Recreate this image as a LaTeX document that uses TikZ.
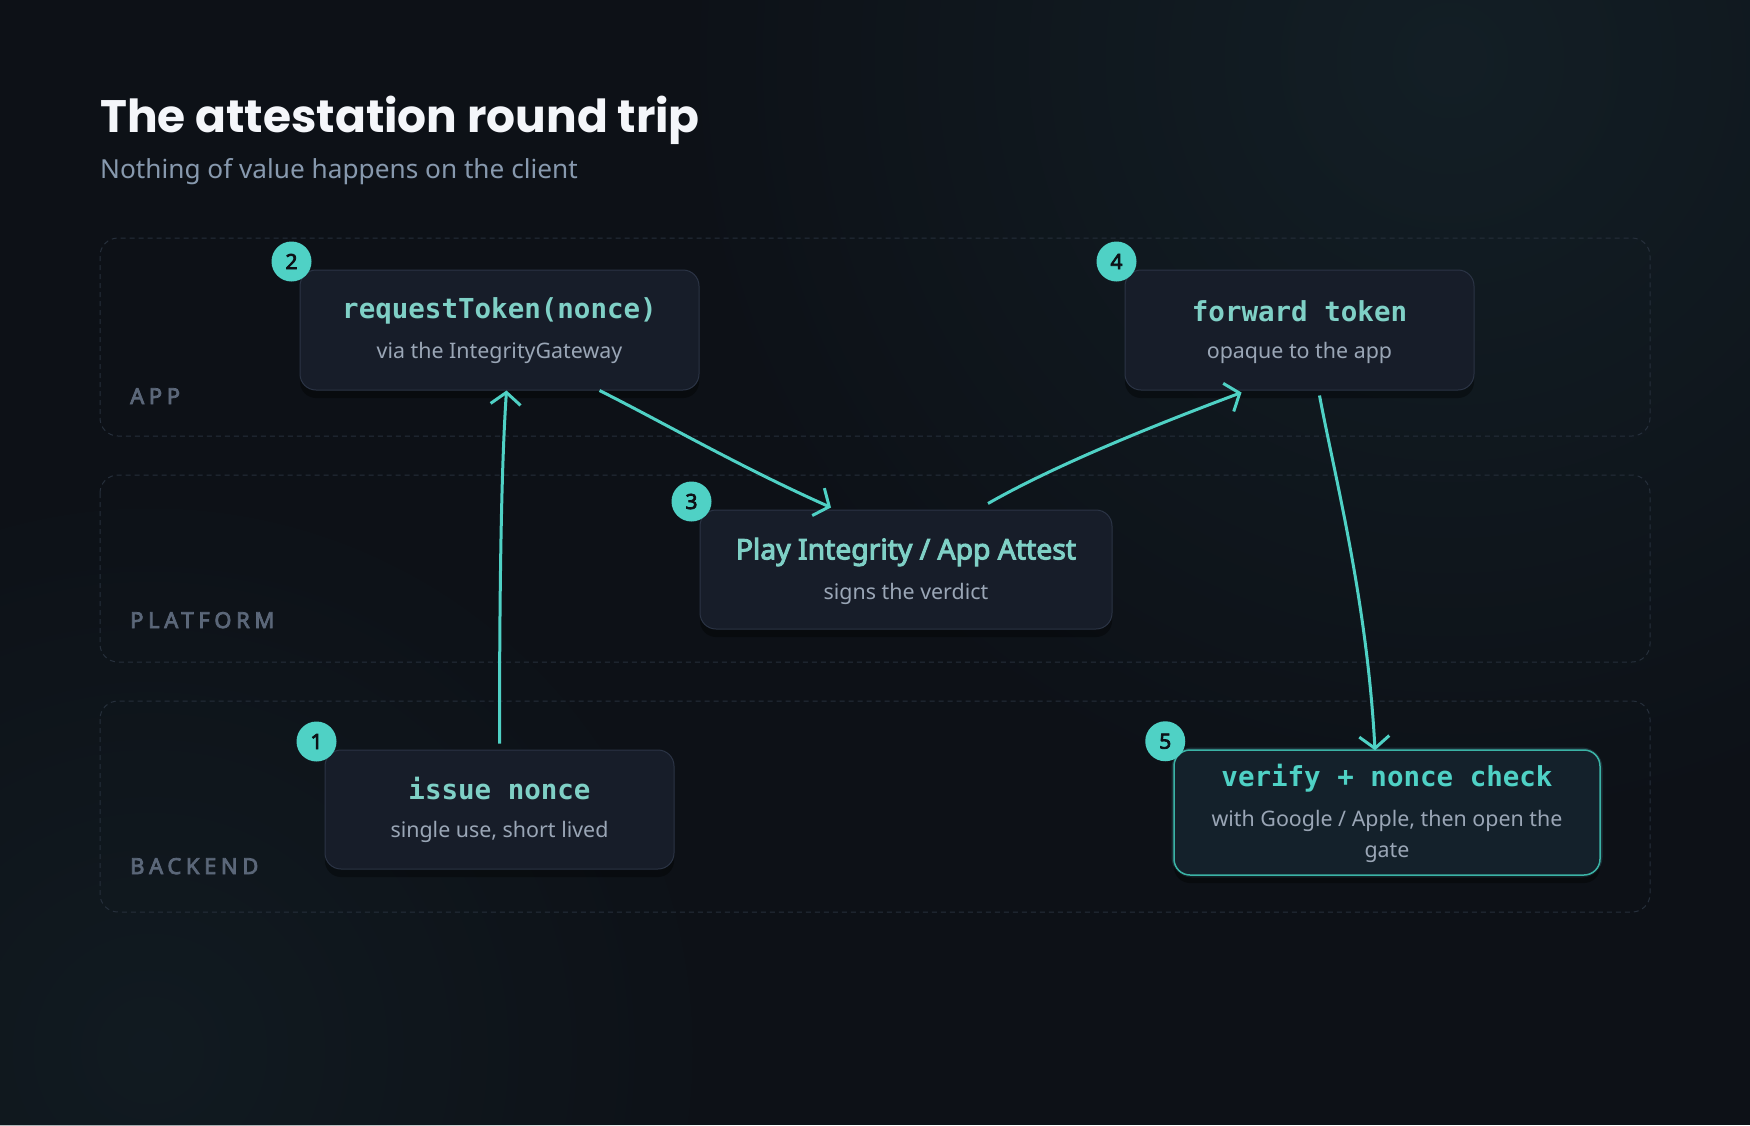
\documentclass[tikz,border=0pt]{standalone}
\usepackage{fontspec}
\setmainfont{Noto Sans}
\setmonofont{DejaVu Sans Mono}
\newfontfamily\titlefont{Poppins}
\newfontfamily\semisans{Noto Sans}[FakeBold=3.5]
\usetikzlibrary{arrows.meta,fadings,shadows}
\definecolor{bgdark}{HTML}{0D1117}
\definecolor{glow}{HTML}{1B3038}
\definecolor{cardfill}{HTML}{171D29}
\definecolor{cardline}{HTML}{2B3445}
\definecolor{tealc}{HTML}{4FD1C5}
\definecolor{headtxt}{HTML}{7FD0C6}
\definecolor{subtxt}{HTML}{9AA6B6}
\definecolor{lanetxt}{HTML}{5B6779}
\definecolor{laneline}{HTML}{262F3B}
\definecolor{titletxt}{HTML}{F4F6FA}
\definecolor{subtitle}{HTML}{8799AE}
\definecolor{okfill}{HTML}{14212B}
\definecolor{okline}{HTML}{3BB3A6}
\tikzfading[name=glowfade, inner color=transparent!55, outer color=transparent!100]
\tikzset{
  lane/.style={draw=laneline, dash pattern=on 5pt off 4pt, rounded corners=18pt, line width=1pt},
  lanename/.style={anchor=base west, inner sep=0pt, text=lanetxt, font=\semisans\fontsize{22}{22}\selectfont\addfontfeature{LetterSpace=21}},
  card/.style={draw=cardline, fill=cardfill, rounded corners=16pt, line width=1pt,
    drop shadow={shadow xshift=0pt, shadow yshift=-8pt, opacity=.35, fill=black}},
  okcard/.style={card, draw=okline, fill=okfill, line width=1.5pt},
  head/.style={text=headtxt, font=\fontsize{27.5}{27.5}\selectfont\ttfamily\bfseries},
  sub/.style={text=subtxt, font=\fontsize{21.4}{31}\selectfont, align=center},
  badge/.style={circle, fill=tealc, text=bgdark, minimum size=40pt, inner sep=0pt,
    font=\semisans\fontsize{21}{21}\selectfont},
  flow/.style={draw=tealc, line width=3pt, -{Straight Barb[length=12pt, width=30pt, line width=3pt]}},
}
\begin{document}
\begin{tikzpicture}[x=1pt, y=-1pt]
  % canvas
  \useasboundingbox (0,0) rectangle (1750,1125);
  \fill[bgdark] (0,0) rectangle (1750,1125);
  \begin{scope}
    \clip (0,0) rectangle (1750,1125);
    \fill[glow, path fading=glowfade] (1450,60) circle (800pt);
    \fill[glow!70!bgdark, path fading=glowfade] (150,1050) circle (600pt);
  \end{scope}

  % heading
  \node[anchor=base west, text=titletxt, font=\titlefont\fontsize{45.5}{46}\selectfont\bfseries, inner sep=0pt] (title) at (100,132) {The attestation round trip};
  \node[anchor=base west, text=subtitle, font=\fontsize{26.2}{26}\selectfont, inner sep=0pt] (subt) at (100,178) {Nothing of value happens on the client};

  % lanes
  \draw[lane] (100,238) rectangle (1650,436);
  \draw[lane] (100,475) rectangle (1650,662);
  \draw[lane] (100,701) rectangle (1650,912);
  \node[lanename] (applane) at (130,404) {APP};
  \node[lanename] (platlane) at (130,628) {PLATFORM};
  \node[lanename] (backlane) at (130,874) {BACKEND};

  % steps
  \node[card, minimum width=399pt, minimum height=120pt] (req) at (499.5,330) {};
  \node[head] at (499.5,311) {requestToken(nonce)};
  \node[sub] at (499.5,353) {via the IntegrityGateway};

  \node[card, minimum width=349pt, minimum height=120pt] (fwd) at (1299.5,330) {};
  \node[head] at (1299.5,311) {forward token};
  \node[sub] at (1299.5,353) {opaque to the app};

  \node[card, minimum width=412pt, minimum height=119pt] (play) at (906,569.5) {};
  \node[text=headtxt, font=\semisans\fontsize{28.3}{28}\selectfont] at (906,552) {Play Integrity / App Attest};
  \node[sub] at (906,594) {signs the verdict};

  \node[card, minimum width=349pt, minimum height=119pt] (nonce) at (499.5,809.5) {};
  \node[head] at (499.5,789) {issue nonce};
  \node[sub] at (499.5,832) {single use, short lived};

  \draw[glow, line width=5pt, rounded corners=18pt] (1174,750) rectangle (1600,875);
  \node[okcard, minimum width=426pt, minimum height=125pt] (verify) at (1387,812.5) {};
  \node[head, text=tealc] at (1387,778) {verify + nonce check};
  \node[sub] at (1387,836) {with Google / Apple, then open the\\gate};

  % numbers
  \node[badge] (one) at ([shift={(-8pt,8pt)}]nonce.north west) {1};
  \node[badge] (two) at ([shift={(-8pt,8pt)}]req.north west) {2};
  \node[badge] (three) at ([shift={(-8pt,8pt)}]play.north west) {3};
  \node[badge] (four) at ([shift={(-8pt,8pt)}]fwd.north west) {4};
  \node[badge] (five) at ([shift={(-8pt,8pt)}]verify.north west) {5};

  % round trip
  \draw[flow] ([yshift=6pt]nonce.north) .. controls +(0,-200) and +(-4,60) .. ([xshift=7pt]req.south);
  \draw[flow] ([xshift=100pt]req.south) .. controls +(60,30) and +(-90,-40) .. ([xshift=-75pt,yshift=2pt]play.north);
  \draw[flow] ([xshift=82pt,yshift=6pt]play.north) .. controls +(70,-40) and +(-80,30) .. ([xshift=-58pt,yshift=-2pt]fwd.south);
  \draw[flow] ([xshift=20pt,yshift=-5pt]fwd.south) .. controls +(15,80) and +(-8,-150) .. ([xshift=-12pt,yshift=-1pt]verify.north);
\end{tikzpicture}
\end{document}
